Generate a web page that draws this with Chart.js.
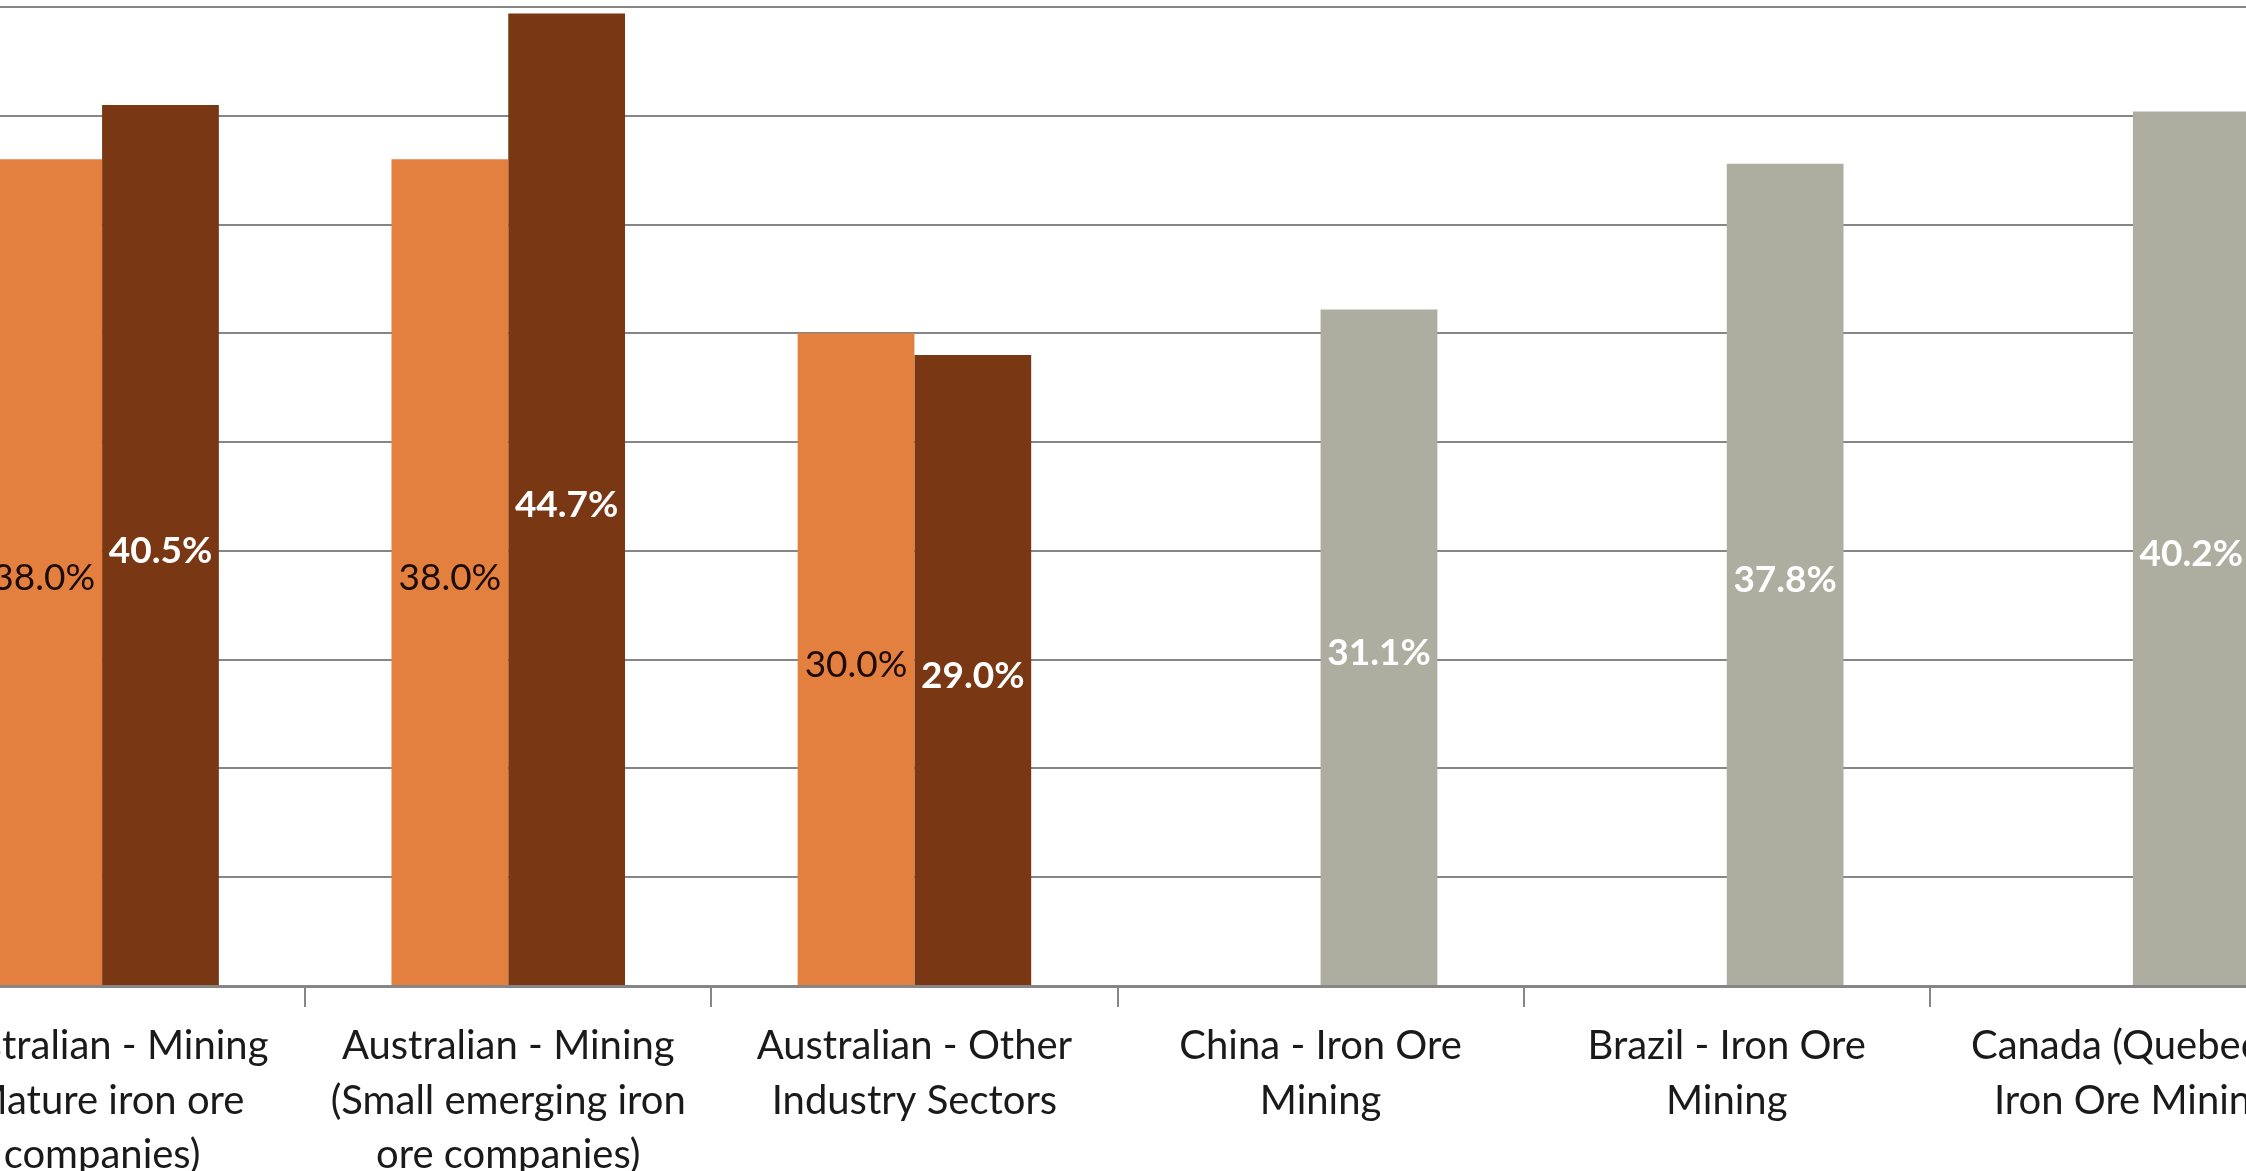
<!DOCTYPE html>
<html>
<head>
  <title>Iron Ore Mining - Rates</title>
  <script src="https://cdn.jsdelivr.net/npm/chart.js"></script>
  <style>
    html, body {
      margin: 0;
      padding: 0;
      background: #fff;
      overflow: hidden;
      width: 2246px;
      height: 1171px;
    }
    /* the chart is wider than the window: the reference is a crop */
    .wrap {
      position: absolute;
      left: -101px;
      top: 0;
      width: 2437px;
      height: 1240px;
    }
  </style>
</head>
<body>
<div class="wrap">
  <canvas id="rateChart"></canvas>
</div>
<script>
  // ==== Data ====
  const categories = [
    ['Australian - Mining', '(Mature iron ore', 'companies)'],
    ['Australian - Mining', '(Small emerging iron', 'ore companies)'],
    ['Australian - Other', 'Industry Sectors'],
    ['China - Iron Ore', 'Mining'],
    ['Brazil - Iron Ore', 'Mining'],
    ['Canada (Quebec) -', 'Iron Ore Mining']
  ];
  const series1Values = [38.0, 38.0, 30.0, null, null, null];
  const series2Values = [40.5, 44.7, 29.0, null, null, null];
  const series3Values = [null, null, null, 31.1, 37.8, 40.2];

  const yMin = 0;
  const yMax = 45;
  const yStep = 5;

  const orange = '#E4803F';
  const brown = '#7A3713';
  const grey = '#ADADA0';
  const gridGrey = '#868686';

  // ==== Value labels in the middle of each bar ====
  const barLabels = {
    id: 'barLabels',
    afterDatasetsDraw(chart) {
      const ctx = chart.ctx;
      ctx.save();
      ctx.textAlign = 'center';
      ctx.textBaseline = 'middle';
      chart.data.datasets.forEach((ds, i) => {
        const meta = chart.getDatasetMeta(i);
        meta.data.forEach((bar, j) => {
          const v = ds.data[j];
          if (v === null || v === undefined) return;
          ctx.fillStyle = ds.labelColor;
          ctx.font = ds.labelFont;
          // Excel sits the text a little below the true middle
          ctx.fillText(v.toFixed(1) + '%', bar.x, (bar.y + bar.base) / 2 + 6);
        });
      });
      ctx.restore();
    }
  };

  new Chart(document.getElementById('rateChart'), {
    type: 'bar',
    data: {
      labels: categories,
      datasets: [
        {
          label: 'Series 1',
          data: series1Values,
          backgroundColor: orange,
          stack: 'a',
          labelColor: '#1c0b00',
          labelFont: '37px Lato, sans-serif'
        },
        {
          label: 'Series 2',
          data: series2Values,
          backgroundColor: brown,
          stack: 'b',
          labelColor: '#ffffff',
          labelFont: 'bold 37px Lato, sans-serif'
        },
        {
          label: 'Series 3',
          data: series3Values,
          backgroundColor: grey,
          stack: 'b',
          labelColor: '#ffffff',
          labelFont: 'bold 37px Lato, sans-serif'
        }
      ]
    },
    options: {
      responsive: true,
      maintainAspectRatio: false,
      animation: false,
      layout: { padding: { top: 7, left: 0, right: 0, bottom: 0 } },
      categoryPercentage: 0.575,
      barPercentage: 1,
      plugins: {
        legend: { display: false },
        tooltip: { enabled: false }
      },
      scales: {
        x: {
          stacked: true,
          afterFit: (scale) => { scale.height = 254; },
          border: { display: true, color: gridGrey, width: 3 },
          grid: {
            drawOnChartArea: false,
            drawTicks: true,
            tickLength: 21,
            color: gridGrey,
            lineWidth: 2
          },
          ticks: {
            autoSkip: false,
            maxRotation: 0,
            minRotation: 0,
            padding: 12,
            color: '#1a1a1a',
            font: { family: 'Lato, sans-serif', size: 40, lineHeight: 1.36 }
          }
        },
        y: {
          stacked: true,
          min: yMin,
          max: yMax,
          border: { display: false },
          grid: { color: gridGrey, lineWidth: 2, drawTicks: false },
          ticks: { display: false, stepSize: yStep }
        }
      }
    },
    plugins: [barLabels]
  });
</script>
</body>
</html>
